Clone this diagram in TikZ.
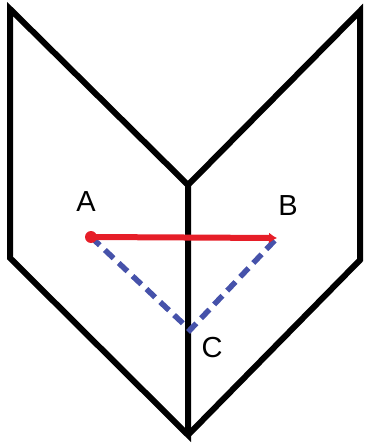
\documentclass[tikz,border=0pt]{standalone}
\usepackage{fontspec}
\setmainfont{Liberation Sans}
\usetikzlibrary{arrows.meta}
\definecolor{segred}{RGB}{230,30,40}
\definecolor{segblue}{RGB}{70,82,170}

\begin{document}
\begin{tikzpicture}[
  x=1pt, y=-1pt,
  font=\fontsize{29}{32}\selectfont,
  panel/.style={draw=black,line width=6pt,line join=miter},
  seg/.style={draw=segred,line width=6pt},
  fold/.style={draw=segblue,line width=5.5pt,dash pattern=on 12pt off 7pt},
  lab/.style={inner sep=0pt},
]
  \useasboundingbox (0,0) rectangle (366,443);
  % the two panels
  \coordinate (tl) at (10,9);
  \coordinate (tr) at (360,11);
  \coordinate (tm) at (188,185);
  \coordinate (bl) at (10,258);
  \coordinate (br) at (360,260);
  \coordinate (bm) at (188,435);
  \draw[panel] (tm) -- (tl) -- (bl) -- (bm) -- cycle;
  \draw[panel] (tm) -- (tr) -- (br) -- (bm);
  % points
  \coordinate (A) at (91,237);
  \coordinate (B) at (277,238);
  \coordinate (C) at (190,330);
  \draw[fold] (A) -- (C) -- (B);
  \draw[seg,-{Latex[length=8pt,width=11pt]}] (A) -- (B);
  \fill[segred] (A) circle (6pt);
  \node[lab] (la) at (86,202) {A};
  \node[lab] (lb) at (288,206) {B};
  \node[lab] (lc) at (212,348) {C};
\end{tikzpicture}
\end{document}
